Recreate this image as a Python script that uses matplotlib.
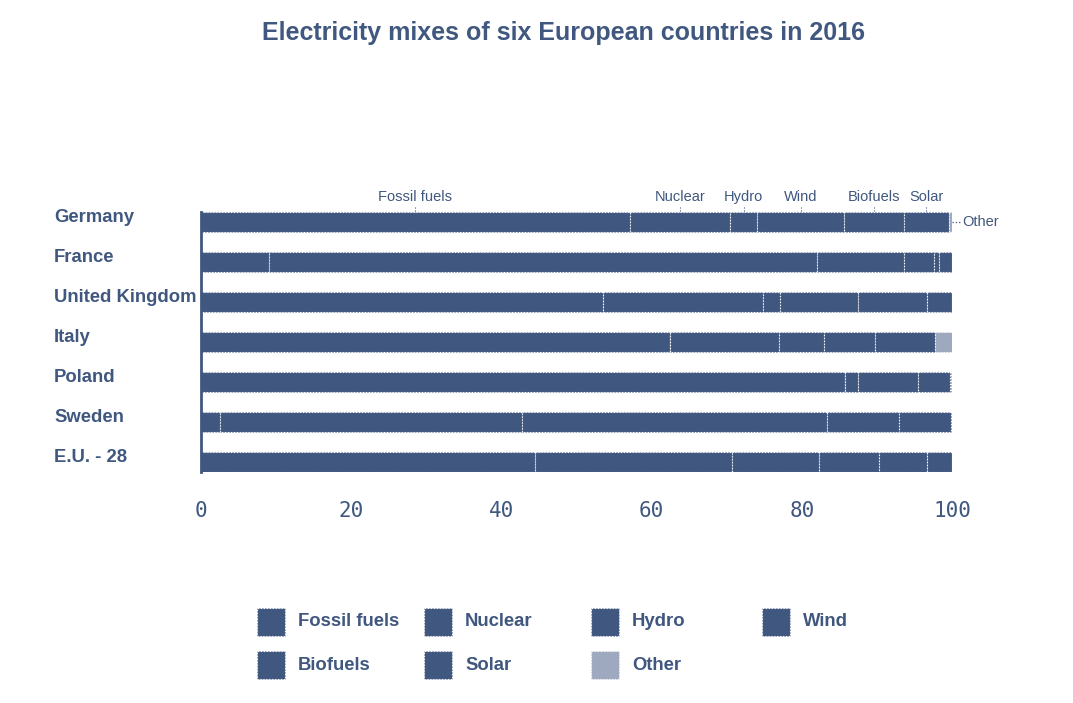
import matplotlib
matplotlib.use("Agg")
import matplotlib.pyplot as plt
import matplotlib.transforms as mtransforms
import numpy as np
from matplotlib.patches import Rectangle

plt.rcParams['font.family'] = ['Liberation Sans', 'DejaVu Sans']

countries = ["Germany", "France", "United Kingdom", "Italy", "Poland", "Sweden", "E.U. - 28"]
sources = ["Fossil fuels", "Nuclear", "Hydro", "Wind", "Biofuels", "Solar", "Other"]

# share of electricity generation, %
fossil = [57.1, 9.0, 53.5, 62.4, 85.8, 2.5, 44.5]
nuclear = [13.3, 73.0, 21.3, 0.0, 0.0, 40.3, 26.2]
hydro = [3.7, 11.6, 2.3, 14.6, 1.7, 40.5, 11.6]
wind = [11.5, 4.0, 10.4, 6.0, 8.0, 9.7, 8.0]
biofuels = [8.0, 0.7, 9.2, 6.7, 4.3, 6.9, 6.4]
solar = [6.0, 1.7, 3.3, 8.0, 0.1, 0.1, 3.3]
other = [0.4, 0.0, 0.0, 2.3, 0.1, 0.0, 0.0]

xticks = [0, 20, 40, 60, 80, 100]

BLUE = '#40577f'
OTHER_COLOR = '#9ea9bf'
W, H = 1073, 703

series = [fossil, nuclear, hydro, wind, biofuels, solar, other]
colors = [BLUE] * 6 + [OTHER_COLOR]

fig = plt.figure(figsize=(W / 100, H / 100), dpi=100)
ax = fig.add_axes([201 / W, (H - 472) / H, 751 / W, 260 / H])

y = np.arange(len(countries))
left = np.zeros(len(countries))
for vals, col in zip(series, colors):
    vals = np.array(vals)
    ax.barh(y, vals, left=left, height=0.5, color=col,
            edgecolor='white', linewidth=0.8, linestyle=':')
    left += vals

ax.set_xlim(0, 100)
ax.set_ylim(6.25, -0.25)
ax.set_yticks([])
ax.set_xticks(xticks)
ax.set_xticklabels([str(t) for t in xticks], family='DejaVu Sans Mono',
                   fontsize=15, color=BLUE)
ax.tick_params(axis='x', length=0, pad=21)
for s in ['top', 'right', 'bottom']:
    ax.spines[s].set_visible(False)
ax.spines['left'].set_color(BLUE)
ax.spines['left'].set_linewidth(2)

# country names, x in figure coords, y in data coords
name_tr = mtransforms.blended_transform_factory(fig.transFigure, ax.transData)
for i, name in enumerate(countries):
    ax.text(54 / W, i - 0.1, name, transform=name_tr, clip_on=False,
            ha='left', va='center', fontsize=13.3, fontweight='bold', color=BLUE)

# segment labels above the first bar
start = 0.0
for name, vals in zip(sources[:-1], series[:-1]):
    mid = start + vals[0] / 2
    ax.text(mid, -0.63, name, ha='center', va='center', fontsize=10.5,
            color=BLUE, clip_on=False)
    ax.plot([mid, mid], [-0.28, -0.38], color=BLUE, lw=0.8, ls=':', clip_on=False)
    start += vals[0]
ax.plot([100, 101.1], [0, 0], color=BLUE, lw=0.9, ls=':', clip_on=False)
ax.text(101.3, 0, sources[-1], ha='left', va='center', fontsize=10.5,
        color=BLUE, clip_on=False)

fig.text(564 / W, 1 - 33 / H, "Electricity mixes of six European countries in 2016",
         ha='center', va='center', fontsize=18, fontweight='bold', color=BLUE)

# legend
col_x = [257, 424, 591, 762]
row_y = [622, 665]
for i, (name, col) in enumerate(zip(sources, colors)):
    x0 = col_x[i % 4]
    yc = row_y[i // 4]
    fig.add_artist(Rectangle((x0 / W, 1 - (yc + 14) / H), 28 / W, 28 / H,
                             transform=fig.transFigure, facecolor=col,
                             edgecolor='white', linewidth=0.8, linestyle=':'))
    fig.text((x0 + 41) / W, 1 - yc / H, name, ha='left', va='center',
             fontsize=13.3, fontweight='bold', color=BLUE)

fig.savefig('out.png', dpi=100, facecolor='white')
